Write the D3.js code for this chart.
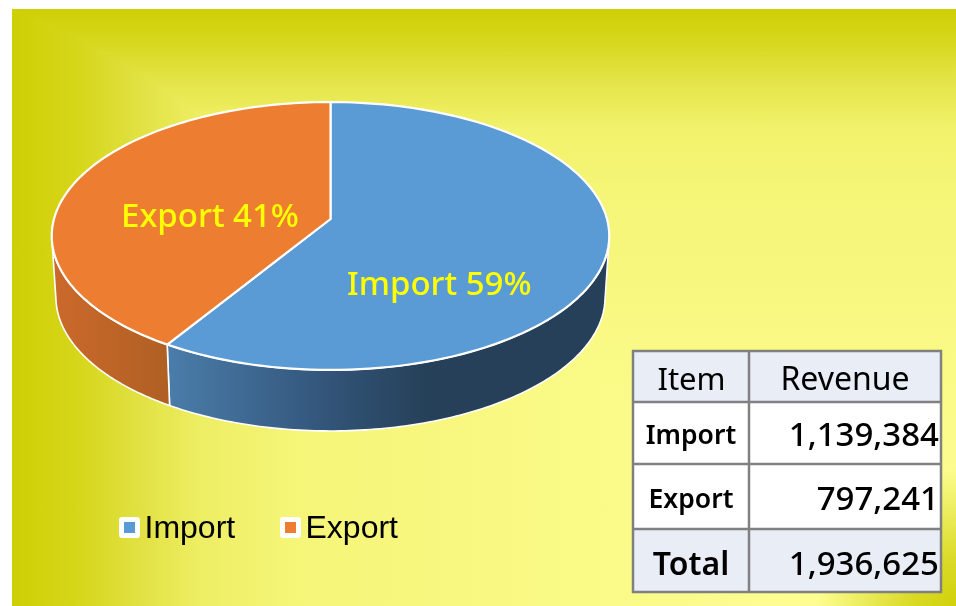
<!DOCTYPE html>
<html>
<head>
<meta charset="utf-8">
<script src="https://cdnjs.cloudflare.com/ajax/libs/d3/7.8.5/d3.min.js"></script>
<style>
  html, body { margin: 0; padding: 0; background: #fff; overflow: hidden; }
</style>
</head>
<body>
<div id="chart"></div>
<script>
// data
const items = ["Import", "Export"];
const revenue = [1139384, 797241];
const sliceColors = ["#5B9BD5", "#ED7D31"];
const tableHead = ["Item", "Revenue"];
const totalLabel = "Total";

const width = 956, height = 606;
const fmt = d3.format(",");
const pct = d3.format(".0%");
const total = d3.sum(revenue);

const svg = d3.select("#chart").append("svg")
    .attr("width", width)
    .attr("height", height)
    .style("display", "block");
const defs = svg.append("defs");

function linear(id, x1, y1, x2, y2, stops) {
    const g = defs.append("linearGradient")
        .attr("id", id)
        .attr("gradientUnits", "userSpaceOnUse")
        .attr("x1", x1).attr("y1", y1).attr("x2", x2).attr("y2", y2);
    stops.forEach(s => g.append("stop").attr("offset", s[0]).attr("stop-color", s[1]));
}

// background: path style gradient, dark on the left, top and lower right corner
linear("bgLeft", 12, 0, 956, 0, [[0, "#CFCF05"], [0.07, "#D6D61A"], [0.13, "#E0E040"], [0.2, "#EEEE64"], [0.3, "#F5F578"], [0.75, "#FCFC8E"], [1, "#FFFF96"]]);
linear("bgTop", 0, 9, 0, 606, [[0, "#CFCF05"], [0.06, "#D8D820"], [0.12, "#E4E448"], [0.2, "#F2F26C"], [0.32, "#F5F578"], [0.75, "#FCFC8E"], [1, "#FFFF96"]]);
const corner = defs.append("radialGradient")
    .attr("id", "bgCorner")
    .attr("gradientUnits", "userSpaceOnUse")
    .attr("cx", 962).attr("cy", 612).attr("r", 150);
corner.append("stop").attr("offset", 0).attr("stop-color", "#CFCF05");
corner.append("stop").attr("offset", 0.35).attr("stop-color", "#DADA28");
corner.append("stop").attr("offset", 1).attr("stop-color", "#FFFF96");

const bg = svg.append("g").style("isolation", "isolate");
["bgLeft", "bgTop", "bgCorner"].forEach(id => {
    bg.append("rect")
        .attr("x", 12).attr("y", 9)
        .attr("width", 944).attr("height", 597)
        .attr("fill", `url(#${id})`)
        .style("mix-blend-mode", "darken");
});

// side wall gradients
linear("sideBlue", 168, 0, 430, 0, [[0, "#4A7DAA"], [0.6, "#33557A"], [1, "#254058"]]);
linear("sideOrange", 52, 0, 168, 0, [[0, "#CC692B"], [1, "#B06024"]]);

// the pie is a flat disc seen in perspective, so the centre sits above the middle of the ellipse
const persp = -0.1269;
const discX = d3.scaleLinear().domain([-1, 1]).range([330.5 - 276.5, 330.5 + 276.5]);
const discY = d3.scaleLinear().domain([-1, 1]).range([219 - 104, 219 + 104]);
const depth = 61, bottomShrink = 0.985;

function project(u, v) {
    const w = 1 + persp * v;
    return [330.5 + (discX(u) - 330.5) / w, discY(v) / w];
}
function rim(a) { return project(Math.sin(a), -Math.cos(a)); }
function rimLow(a) {
    const p = rim(a);
    return [330.5 + (p[0] - 330.5) * bottomShrink, p[1] + depth];
}
function arcPts(fn, a0, a1) {
    return d3.range(0, 121).map(i => fn(a0 + (a1 - a0) * i / 120));
}

const pie = d3.pie().sort(null).value(d => d);
const slices = pie(revenue);
const line = d3.line();
const rimStroke = "#fff";

// side walls: only the front half of the rim shows
const frontFrom = 100 * Math.PI / 180, frontTo = 260 * Math.PI / 180;
slices.forEach((s, i) => {
    const a0 = Math.max(s.startAngle, frontFrom), a1 = Math.min(s.endAngle, frontTo);
    const pts = arcPts(rim, a0, a1).concat(arcPts(rimLow, a1, a0));
    svg.append("path")
        .attr("d", line(pts) + "Z")
        .attr("fill", `url(#${i === 0 ? "sideBlue" : "sideOrange"})`)
        .attr("stroke", rimStroke)
        .attr("stroke-width", 1.6)
        .attr("stroke-linejoin", "round");
});

// top face
const apex = project(0, 0);
slices.forEach((s, i) => {
    const pts = [apex].concat(arcPts(rim, s.startAngle, s.endAngle));
    svg.append("path")
        .attr("d", line(pts) + "Z")
        .attr("fill", sliceColors[i])
        .attr("stroke", rimStroke)
        .attr("stroke-width", 2.2)
        .attr("stroke-linejoin", "round");
});

// slice labels
const labelPos = [[347, 295], [121, 227]];
slices.forEach((s, i) => {
    svg.append("text")
        .attr("x", labelPos[i][0])
        .attr("y", labelPos[i][1])
        .attr("fill", "#FFFF00")
        .style("font-family", "'Noto Sans', sans-serif")
        .style("font-size", "33px")
        .style("font-weight", 500)
        .text(`${items[i]} ${pct(s.value / total)}`);
});

// legend
const legendX = [119, 280];
items.forEach((name, i) => {
    svg.append("rect")
        .attr("x", legendX[i]).attr("y", 517)
        .attr("width", 21).attr("height", 21).attr("rx", 3)
        .attr("fill", "#fff");
    svg.append("rect")
        .attr("x", legendX[i] + 5).attr("y", 522)
        .attr("width", 11).attr("height", 11)
        .attr("fill", sliceColors[i]);
    svg.append("text")
        .attr("x", legendX[i] + 25.5).attr("y", 538)
        .attr("fill", "#000")
        .style("font-family", "'Liberation Sans', Arial, sans-serif")
        .style("font-size", "32px")
        .text(name);
});

// table
const colX = [633, 749, 941];
const rowY = [351, 402, 464, 529, 592];
const rows = [
    { c: tableHead, head: true },
    { c: [items[0], fmt(revenue[0])] },
    { c: [items[1], fmt(revenue[1])] },
    { c: [totalLabel, fmt(total)], foot: true }
];
const table = svg.append("g");
rows.forEach((r, i) => {
    table.append("rect")
        .attr("x", colX[0]).attr("y", rowY[i])
        .attr("width", colX[2] - colX[0]).attr("height", rowY[i + 1] - rowY[i])
        .attr("fill", (r.head || r.foot) ? "#E9EDF6" : "#fff");
    const midY = (rowY[i] + rowY[i + 1]) / 2;
    const base = midY + (r.foot ? 14 : r.head ? 13 : 13);
    const labelSize = r.head ? 31 : r.foot ? 32 : 26.5;
    table.append("text")
        .attr("x", (colX[0] + colX[1]) / 2 + (r.head ? 0.5 : 0)).attr("y", base - (r.head || r.foot ? 0 : 2))
        .attr("text-anchor", "middle")
        .attr("fill", "#000")
        .style("font-family", "'Noto Sans', sans-serif")
        .style("font-size", labelSize + "px")
        .style("font-weight", r.head ? 400 : r.foot ? 600 : 600)
        .text(r.c[0]);
    table.append("text")
        .attr("x", r.head ? (colX[1] + colX[2]) / 2 : colX[2] - 2)
        .attr("y", base)
        .attr("text-anchor", r.head ? "middle" : "end")
        .attr("fill", "#000")
        .style("font-family", "'Noto Sans', sans-serif")
        .style("font-size", (r.head ? 32 : 33) + "px")
        .style("font-weight", r.head ? 400 : 500)
        .text(r.c[1]);
});
rowY.forEach(y => {
    table.append("line")
        .attr("x1", colX[0] - 1).attr("x2", colX[2] + 1)
        .attr("y1", y).attr("y2", y)
        .attr("stroke", "#808080").attr("stroke-width", 2.5);
});
colX.forEach(x => {
    table.append("line")
        .attr("x1", x).attr("x2", x)
        .attr("y1", rowY[0] - 1).attr("y2", rowY[4] + 1)
        .attr("stroke", "#808080").attr("stroke-width", 2.5);
});
</script>
</body>
</html>
